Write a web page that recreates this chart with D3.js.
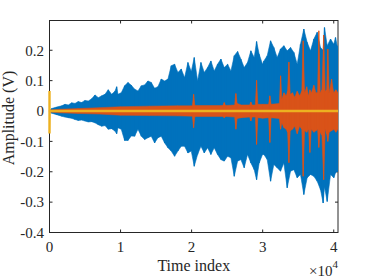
<!DOCTYPE html>
<html><head><meta charset="utf-8">
<script src="https://cdn.jsdelivr.net/npm/d3@7"></script>
<style>html,body{margin:0;padding:0;background:#fff;}svg{display:block;}</style>
</head><body>
<svg id="c" width="374" height="280"></svg>
<script>
// ---- data ----
const xTicks = [0, 10000, 20000, 30000, 40000];
const xTickLabels = ["0", "1", "2", "3", "4"];
const yTicks = [-0.4, -0.3, -0.2, -0.1, 0, 0.1, 0.2];
const yTickLabels = ["-0.4", "-0.3", "-0.2", "-0.1", "0", "0.1", "0.2"];
const xLabel = "Time index";
const yLabel = "Amplitude (V)";
const xMax = 40600;

// blue series envelope: [time index, upper, lower]
const blueEnv = [
[0,0.002,-0.002],[305,0.008,-0.007],[1010,0.013,-0.012],[1710,0.017,-0.017],[2180,0.022,-0.02],
[2650,0.02,-0.022],[3120,0.027,-0.024],[3590,0.025,-0.028],[4050,0.031,-0.031],[4520,0.028,-0.03],
[4990,0.035,-0.033],[5460,0.033,-0.036],[5930,0.04,-0.035],[6400,0.053,-0.039],[6870,0.044,-0.045],
[7340,0.05,-0.05],[7810,0.055,-0.048],[8270,0.07,-0.06],[8740,0.055,-0.058],[9210,0.065,-0.066],
[9450,0.08,-0.075],[9630,0.055,-0.055],[10100,0.06,-0.06],[10570,0.083,-0.097],[11040,0.094,-0.097],
[11510,0.085,-0.082],[11980,0.072,-0.083],[12450,0.066,-0.06],[12920,0.083,-0.083],[13390,0.086,-0.094],
[13850,0.099,-0.088],[14320,0.094,-0.083],[14790,0.075,-0.105],[15260,0.08,-0.088],[15730,0.105,-0.083],
[16200,0.099,-0.105],[16670,0.105,-0.121],[17130,0.149,-0.132],[17600,0.154,-0.149],[18070,0.127,-0.132],
[18540,0.138,-0.116],[19010,0.11,-0.116],[19480,0.16,-0.138],[19950,0.13,-0.132],[20370,0.176,-0.182],
[20840,0.099,-0.143],[21310,0.16,-0.116],[21780,0.127,-0.138],[22250,0.143,-0.121],[22710,0.165,-0.143],
[23180,0.132,-0.121],[23650,0.154,-0.143],[24120,0.171,-0.16],[24590,0.143,-0.165],[25060,0.154,-0.149],
[25530,0.132,-0.154],[26000,0.182,-0.215],[26470,0.196,-0.165],[26930,0.171,-0.16],[27400,0.143,-0.187],
[27870,0.16,-0.143],[28340,0.198,-0.171],[28810,0.176,-0.193],[29140,0.229,-0.226],[29510,0.187,-0.171],
[29980,0.154,-0.143],[30170,0.165,-0.143],[30640,0.182,-0.16],[31110,0.231,-0.231],[31570,0.209,-0.176],
[32040,0.176,-0.187],[32510,0.204,-0.198],[32980,0.215,-0.171],[33450,0.198,-0.253],[33920,0.209,-0.198],
[34390,0.193,-0.193],[34860,0.154,-0.22],[35320,0.22,-0.209],[35790,0.27,-0.275],[36260,0.226,-0.22],
[36730,0.198,-0.209],[37200,0.237,-0.215],[37670,0.259,-0.231],[38140,0.209,-0.259],[38510,0.2,-0.303],
[38700,0.275,-0.25],[39080,0.215,-0.298],[39550,0.237,-0.209],[40010,0.22,-0.22],[40250,0.242,-0.204],
[40480,0.215,-0.198],[40600,0.2,-0.2]
];

// orange series envelope: [time index, upper, lower]
const orangeEnv = [
[0,0.003,-0.003],[1500,0.006,-0.006],[4000,0.008,-0.008],[7000,0.011,-0.01],[10000,0.014,-0.014],
[14000,0.016,-0.015],[18000,0.017,-0.016],[20100,0.017,-0.017],[20280,0.055,-0.055],[20460,0.018,-0.018],
[24400,0.018,-0.018],[24590,0.028,-0.022],[24780,0.018,-0.018],[26050,0.02,-0.02],[26230,0.058,-0.06],
[26410,0.025,-0.025],[27000,0.02,-0.022],[28160,0.02,-0.02],[28340,0.03,-0.033],[28520,0.02,-0.02],
[28960,0.02,-0.02],[29140,0.101,-0.11],[29320,0.022,-0.022],[30000,0.022,-0.024],[30830,0.022,-0.022],
[31010,0.05,-0.104],[31190,0.022,-0.022],[32340,0.025,-0.025],[32520,0.116,-0.06],[32700,0.04,-0.04],
[33000,0.06,-0.055],[33300,0.05,-0.06],[33500,0.065,-0.07],[33690,0.161,-0.17],[33880,0.055,-0.065],
[34200,0.06,-0.06],[34500,0.045,-0.05],[34860,0.065,-0.075],[35200,0.05,-0.05],[35500,0.065,-0.06],
[35700,0.231,-0.215],[35900,0.06,-0.065],[36200,0.08,-0.07],[36450,0.05,-0.06],[36640,0.07,-0.137],
[36850,0.06,-0.06],[37200,0.085,-0.07],[37500,0.06,-0.065],[37720,0.06,-0.06],[37900,0.264,-0.12],
[38100,0.06,-0.07],[38330,0.07,-0.08],[38580,0.25,-0.226],[38800,0.065,-0.06],[39000,0.07,-0.075],
[39170,0.204,-0.1],[39360,0.06,-0.07],[39700,0.105,-0.065],[40000,0.06,-0.06],[40300,0.07,-0.07],
[40600,0.06,-0.06]
];

// yellow series: [time index, value]
const yellowPts = [[0,0.066],[0,-0.074],[20,0],[40600,0]];

// ---- drawing ----
const W = 374, H = 280;
const L = 49.5, R = 338, T = 20.5, B = 232.5;
const font = "'Liberation Serif','Times New Roman',serif";
const axisColor = "#262626";
const x = d3.scaleLinear().domain([0, xMax]).range([L, R]);
const y = d3.scaleLinear().domain([-0.4, 0.298]).range([B, T]);
const svg = d3.select("#c");

svg.append("defs").append("clipPath").attr("id","clip")
  .append("rect").attr("x", L - 1.5).attr("y", T).attr("width", R - L + 1.5).attr("height", B - T);

// axes box and ticks
const ax = svg.append("g");
ax.append("rect").attr("x", L).attr("y", T).attr("width", R - L).attr("height", B - T)
  .attr("fill","none").attr("stroke", axisColor).attr("stroke-width", 1);
const tl = 3;
xTicks.forEach((v, i) => {
  const px = x(v);
  ax.append("line").attr("x1",px).attr("x2",px).attr("y1",B).attr("y2",B-tl).attr("stroke",axisColor);
  ax.append("line").attr("x1",px).attr("x2",px).attr("y1",T).attr("y2",T+tl).attr("stroke",axisColor);
  ax.append("text").attr("x",px).attr("y",251.5).attr("text-anchor","middle")
    .attr("font-family",font).attr("font-size",15).attr("fill",axisColor).text(xTickLabels[i]);
});
yTicks.forEach((v, i) => {
  const py = y(v);
  ax.append("line").attr("x1",L).attr("x2",L+tl).attr("y1",py).attr("y2",py).attr("stroke",axisColor);
  ax.append("line").attr("x1",R).attr("x2",R-tl).attr("y1",py).attr("y2",py).attr("stroke",axisColor);
  ax.append("text").attr("x",44).attr("y",py).attr("dy","0.35em").attr("text-anchor","end")
    .attr("font-family",font).attr("font-size",15).attr("fill",axisColor).text(yTickLabels[i]);
});

// data
const g = svg.append("g").attr("clip-path","url(#clip)");
const envArea = d3.area().x(d => x(d[0])).y0(d => y(d[2])).y1(d => y(d[1]));
g.append("path").datum(blueEnv).attr("d", envArea).attr("fill","#0072BD")
  .attr("stroke","#0072BD").attr("stroke-width",0.6);
g.selectAll("line.b").data(blueEnv).enter().append("line")
  .attr("x1",d=>x(d[0])).attr("x2",d=>x(d[0])).attr("y1",d=>y(d[1])).attr("y2",d=>y(d[2]))
  .attr("stroke","#0072BD").attr("stroke-width",1.2);
g.append("path").datum(orangeEnv).attr("d", envArea).attr("fill","#D95319")
  .attr("stroke","#D95319").attr("stroke-width",0.5);
g.selectAll("line.o").data(orangeEnv).enter().append("line")
  .attr("x1",d=>x(d[0])).attr("x2",d=>x(d[0])).attr("y1",d=>y(d[1])).attr("y2",d=>y(d[2]))
  .attr("stroke","#D95319").attr("stroke-width",1.1);
g.append("path").datum(yellowPts)
  .attr("d", d3.line().x(d => x(d[0])).y(d => y(d[1])))
  .attr("fill","none").attr("stroke","#EDB120").attr("stroke-width",2.4);

// labels
svg.append("text").attr("x",(L+R)/2).attr("y",271).attr("text-anchor","middle")
  .attr("font-family",font).attr("font-size",16).attr("fill",axisColor).text(xLabel);
svg.append("text").attr("transform","translate(14,118) rotate(-90)").attr("text-anchor","middle")
  .attr("font-family",font).attr("font-size",16).attr("fill",axisColor).text(yLabel);
const ex = svg.append("text").attr("x",R).attr("y",275.5).attr("text-anchor","end")
  .attr("font-family",font).attr("font-size",15).attr("fill",axisColor);
ex.append("tspan").text("\u00d710");
ex.append("tspan").attr("dy",-8).attr("font-size",11).text("4");
</script>
</body></html>
